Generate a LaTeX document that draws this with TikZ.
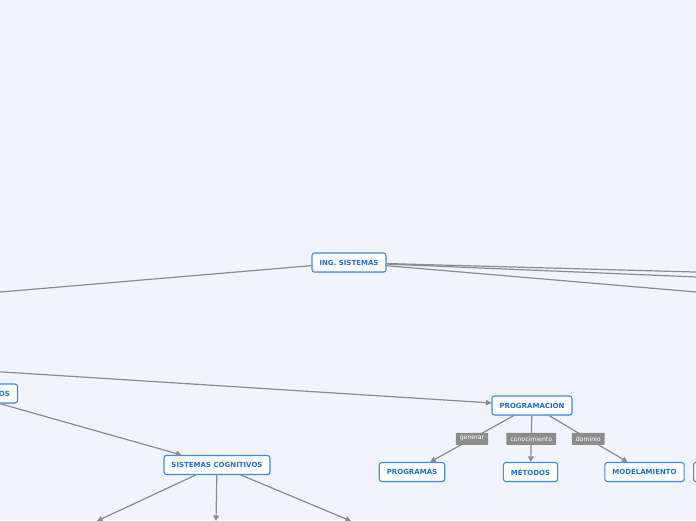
\documentclass[tikz,border=0pt]{standalone}
\usepackage{fontspec}
\setmainfont{DejaVu Sans}
\usetikzlibrary{arrows.meta,positioning,shadows}
\definecolor{canvas}{HTML}{F1F4FD}
\definecolor{boxblue}{HTML}{3A8EE6}
\definecolor{textblue}{HTML}{1E6FD6}
\definecolor{linkgray}{HTML}{8B8B95}
\definecolor{taggray}{HTML}{8C8C8C}

\tikzset{
  topic/.style={draw=boxblue, line width=1.1pt, fill=white, rounded corners=2.5pt,
    text=textblue, font=\fontsize{7}{8}\selectfont\bfseries, minimum height=19pt,
    inner xsep=7.5pt, drop shadow={shadow xshift=0.4pt, shadow yshift=-0.8pt, opacity=0.2}},
  link/.style={draw=linkgray, line width=1.2pt, -{Triangle[length=5.5pt,width=5.5pt]}},
  tag/.style={fill=taggray, text=white, font=\fontsize{6.2}{7}\selectfont,
    inner xsep=4pt, inner ysep=1.5pt, minimum height=12pt, rounded corners=0.5pt},
}

\begin{document}
\begin{tikzpicture}[x=1pt,y=-1pt]
    % Canvas
    \fill[canvas] (0,0) rectangle (696,520);
    \useasboundingbox (0,0) rectangle (696,520);
    \clip (0,0) rectangle (696,520);

    % Main topics
    \node[topic] (ing) at (349,262.5) {ING. SISTEMAS};
    \node[topic, anchor=east] (so) at (18,393.5) {SISTEMAS OPERATIVOS};
    \node[topic] (prog) at (532,405.5) {PROGRAMACIÓN};
    \node[topic] (cog) at (217,465) {SISTEMAS COGNITIVOS};

    % Subtopics of programming
    \node[topic] (progs) at (412,472) {PROGRAMAS};
    \node[topic] (met) at (530.5,472) {MÉTODOS};
    \node[topic] (model) at (644.5,472) {MODELAMIENTO};
    \node[topic, anchor=west, minimum width=50pt] (extra) at (693,472) {};

    % Ends outside the frame
    \coordinate (lft) at (-100,300.5);
    \coordinate (src) at (-100,365.5);
    \coordinate (r1) at (800,274.9);
    \coordinate (r2) at (800,281.3);
    \coordinate (r3) at (800,300.8);
    \coordinate (c1) at (97,521);
    \coordinate (c2) at (216,521);
    \coordinate (c3) at (351,521);

    % Links from the root
    \draw[link] (ing) -- (lft);
    \foreach \r in {r1,r2,r3} {
        \draw[link] (ing) -- (\r);
    }

    % Links into programming and cognitive systems
    \draw[link] (src) -- (prog);
    \draw[link] (so) -- (cog);

    % Labelled links
    \draw[link] (prog) -- node[tag] {generar} (progs);
    \draw[link] (prog) -- node[tag] {conocimiento} (met);
    \draw[link] (prog) -- node[tag] {dominio} (model);

    % Cognitive systems children
    \foreach \c in {c1,c2,c3} {
        \draw[link] (cog) -- (\c);
    }
\end{tikzpicture}
\end{document}
